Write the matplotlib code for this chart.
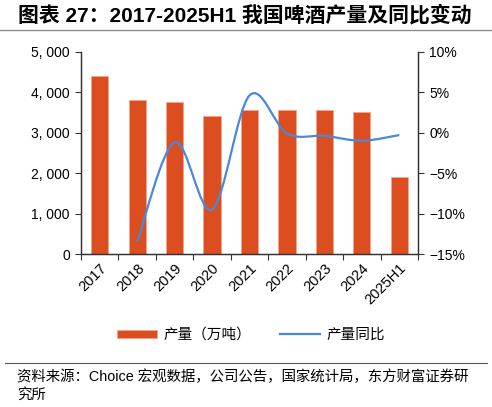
import numpy as np
import matplotlib
matplotlib.use("Agg")
import matplotlib.pyplot as plt
from matplotlib.path import Path
from matplotlib.patches import PathPatch
from matplotlib.lines import Line2D
from matplotlib.patches import Patch

plt.rcParams['font.family'] = ['Liberation Sans', 'Noto Sans CJK SC', 'DejaVu Sans']

# === data ===
years = ["2017", "2018", "2019", "2020", "2021", "2022", "2023", "2024", "2025H1"]
output_10kt = [4401, 3812, 3765, 3411, 3562, 3568, 3555, 3521, 1904]
yoy_years = ["2018", "2019", "2020", "2021", "2022", "2023", "2024", "2025H1"]
yoy_pct = [-13.5, -1.2, -9.5, 4.6, -0.1, -0.4, -1.0, -0.3]

left_ticks = [0, 1000, 2000, 3000, 4000, 5000]
left_labels = ["0", "1, 000", "2, 000", "3, 000", "4, 000", "5, 000"]
right_ticks = [-15, -10, -5, 0, 5, 10]

bar_color = "#DC4E1F"
line_color = "#4A88DA"

fig = plt.figure(figsize=(4.92, 4.07), dpi=100)
ax = fig.add_axes([0.1646, 0.3759, 0.685, 0.497])
ax2 = ax.twinx()

x = np.arange(len(years))
ax.bar(x, output_10kt, width=0.46, color=bar_color, edgecolor="#F2A58C", linewidth=0.6, zorder=2)
ax.set_xlim(-0.5, len(years) - 0.5)
ax.set_ylim(0, 5000)
ax.set_yticks(left_ticks)
ax.set_yticklabels(left_labels)

# smoothed line (Catmull-Rom style bezier, like Excel smooth lines)
xl = np.array([years.index(y) for y in yoy_years], dtype=float)
yl = np.array(yoy_pct, dtype=float)
verts = [(xl[0], yl[0])]
codes = [Path.MOVETO]
n = len(xl)
for i in range(n - 1):
    p0 = (xl[max(i - 1, 0)], yl[max(i - 1, 0)])
    p1 = (xl[i], yl[i])
    p2 = (xl[i + 1], yl[i + 1])
    p3 = (xl[min(i + 2, n - 1)], yl[min(i + 2, n - 1)])
    c1 = (p1[0] + (p2[0] - p0[0]) / 6, p1[1] + (p2[1] - p0[1]) / 6)
    c2 = (p2[0] - (p3[0] - p1[0]) / 6, p2[1] - (p3[1] - p1[1]) / 6)
    verts += [c1, c2, p2]
    codes += [Path.CURVE4] * 3
ax2.add_patch(PathPatch(Path(verts, codes), facecolor="none", edgecolor=line_color,
                        linewidth=1.6, zorder=3))
ax2.set_ylim(-15, 10)
ax2.set_yticks(right_ticks)
ax2.set_yticklabels([f"{t}%".replace("-", "\u2212") for t in right_ticks])

# x ticks at category boundaries, labels at centers
ax.set_xticks(np.arange(len(years) + 1) - 0.5)
ax.set_xticklabels([])
ax.set_xticks(x, minor=True)
ax.set_xticklabels(years, minor=True, rotation=45, ha="right", va="top",
                   rotation_mode="anchor", fontsize=10.5)
ax.tick_params(axis="x", which="major", length=4, direction="out", color="#333333")
ax.tick_params(axis="x", which="minor", length=0, pad=5)
ax.tick_params(axis="y", labelsize=10, length=4, color="#333333", pad=4)
ax2.tick_params(axis="y", labelsize=10, length=4, color="#333333", pad=4)

for a in (ax, ax2):
    a.spines["top"].set_visible(False)
    for s in ("left", "right", "bottom"):
        a.spines[s].set_color("#333333")
        a.spines[s].set_linewidth(0.9)

# legend
handles = [Patch(facecolor=bar_color, edgecolor="#F2A58C", linewidth=0.6),
           Line2D([0], [0], color=line_color, linewidth=1.6)]
fig.legend(handles, ["产量（万吨）", "产量同比"], loc="center", bbox_to_anchor=(0.51, 0.177),
           ncol=2, frameon=False, handlelength=2.7, handleheight=0.5, handletextpad=0.45,
           columnspacing=2.0, prop={"family": ["Noto Sans CJK SC"], "size": 10.5})

# title and source
fig.text(0.036, 0.963, "图表 27：2017-2025H1 我国啤酒产量及同比变动", fontsize=15,
         fontweight="bold", ha="left", va="center",
         family=["Liberation Sans", "Noto Sans CJK SC"])
fig.add_artist(Line2D([0.0, 1.0], [0.927, 0.927], color="#8C8C8C", linewidth=1.0))
fig.add_artist(Line2D([0.01, 0.99], [0.108, 0.108], color="#555555", linewidth=0.8))
fig.text(0.034, 0.053, "资料来源：Choice 宏观数据，公司公告，国家统计局，东方财富证券研\n究所",
         fontsize=10.4, ha="left", va="center", linespacing=1.35,
         family=["Liberation Sans", "Noto Sans CJK SC"])

fig.savefig("out.png", dpi=100)
